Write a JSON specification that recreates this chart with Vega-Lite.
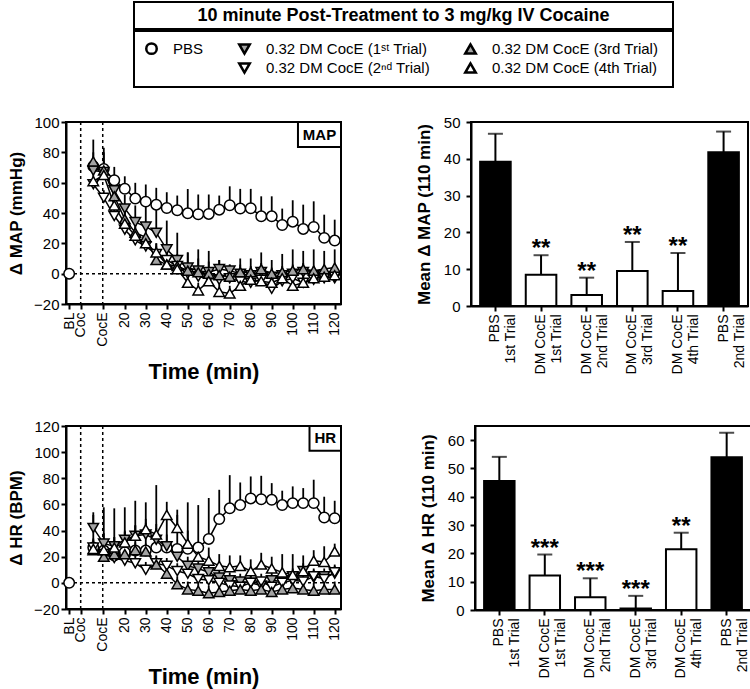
{
"$schema": "https://vega.github.io/schema/vega-lite/v6.json",
"padding": {"left": 6, "top": 1, "right": 0, "bottom": 0},
"autosize": {"type": "pad"},
"config": {
 "font": "Liberation Sans",
 "view": {"stroke": "black", "strokeWidth": 2},
 "axis": {"domainColor": "black", "domainWidth": 2, "tickColor": "black", "tickWidth": 2, "tickSize": 5, "labelColor": "black", "titleColor": "black", "labelFontSize": 15, "labelFont": "Liberation Sans", "titleFont": "Liberation Sans", "titleFontWeight": "bold", "titleFontSize": 17, "grid": false, "labelOverlap": false, "tickCount": 30}
},
"datasets": {
 "events": [{"event": "Coc", "t": -1}, {"event": "CocE", "t": 9.5}],
 "map": [
  {"t":-6.5,"s":"PBS","v":0,"hi":0},
  {"t":5,"s":"PBS","v":70.8,"hi":88.4},{"t":10,"s":"PBS","v":69,"hi":83},{"t":15,"s":"PBS","v":61.6,"hi":70.4},{"t":20,"s":"PBS","v":56,"hi":64.2},{"t":25,"s":"PBS","v":49.5,"hi":59.9},{"t":30,"s":"PBS","v":47.5,"hi":58.8},{"t":35,"s":"PBS","v":45.5,"hi":56.6},{"t":40,"s":"PBS","v":43.3,"hi":53.7},{"t":45,"s":"PBS","v":41.8,"hi":51.5},{"t":50,"s":"PBS","v":39.8,"hi":55.8},{"t":55,"s":"PBS","v":39.2,"hi":52.2},{"t":60,"s":"PBS","v":39.4,"hi":52.2},{"t":65,"s":"PBS","v":42.2,"hi":51.5},{"t":70,"s":"PBS","v":45.1,"hi":57.6},{"t":75,"s":"PBS","v":42.9,"hi":55.9},{"t":80,"s":"PBS","v":43.1,"hi":55.9},{"t":85,"s":"PBS","v":37.8,"hi":51},{"t":90,"s":"PBS","v":37.8,"hi":51},{"t":95,"s":"PBS","v":32.1,"hi":42.9},{"t":100,"s":"PBS","v":34.3,"hi":48.4},{"t":105,"s":"PBS","v":29.5,"hi":45.5},{"t":110,"s":"PBS","v":30.8,"hi":47.7},{"t":115,"s":"PBS","v":23.6,"hi":38.9},{"t":120,"s":"PBS","v":21.8,"hi":35.6},
  {"t":5,"s":"T1","v":68,"hi":76},{"t":10,"s":"T1","v":67,"hi":80},{"t":15,"s":"T1","v":55,"hi":62},{"t":20,"s":"T1","v":43,"hi":52},{"t":25,"s":"T1","v":34,"hi":45},{"t":30,"s":"T1","v":31,"hi":44},{"t":35,"s":"T1","v":27,"hi":42},{"t":40,"s":"T1","v":16,"hi":35},{"t":45,"s":"T1","v":9,"hi":27},{"t":50,"s":"T1","v":4,"hi":14},{"t":55,"s":"T1","v":2,"hi":10},{"t":60,"s":"T1","v":1,"hi":8},{"t":65,"s":"T1","v":3,"hi":9},{"t":70,"s":"T1","v":2,"hi":6},{"t":75,"s":"T1","v":0,"hi":6},{"t":80,"s":"T1","v":-1,"hi":5},{"t":85,"s":"T1","v":1,"hi":7},{"t":90,"s":"T1","v":-2,"hi":4},{"t":95,"s":"T1","v":-1,"hi":5},{"t":100,"s":"T1","v":0,"hi":6},{"t":105,"s":"T1","v":1,"hi":7},{"t":110,"s":"T1","v":-1,"hi":5},{"t":115,"s":"T1","v":-2,"hi":4},{"t":120,"s":"T1","v":-3,"hi":3},
  {"t":5,"s":"T2","v":59,"hi":63},{"t":10,"s":"T2","v":50,"hi":55},{"t":15,"s":"T2","v":38,"hi":43},{"t":20,"s":"T2","v":29,"hi":34},{"t":25,"s":"T2","v":22,"hi":27},{"t":30,"s":"T2","v":18,"hi":23},{"t":35,"s":"T2","v":13,"hi":18},{"t":40,"s":"T2","v":9,"hi":14},{"t":45,"s":"T2","v":5,"hi":10},{"t":50,"s":"T2","v":0,"hi":4},{"t":55,"s":"T2","v":-2,"hi":2},{"t":60,"s":"T2","v":-3,"hi":1},{"t":65,"s":"T2","v":-4,"hi":0},{"t":70,"s":"T2","v":-3,"hi":1},{"t":75,"s":"T2","v":-5,"hi":-1},{"t":80,"s":"T2","v":-6,"hi":-2},{"t":85,"s":"T2","v":-4,"hi":0},{"t":90,"s":"T2","v":-10,"hi":-5},{"t":95,"s":"T2","v":-5,"hi":-1},{"t":100,"s":"T2","v":-3,"hi":1},{"t":105,"s":"T2","v":-6,"hi":-2},{"t":110,"s":"T2","v":-4,"hi":0},{"t":115,"s":"T2","v":-3,"hi":1},{"t":120,"s":"T2","v":-2,"hi":2},
  {"t":5,"s":"T3","v":74,"hi":80},{"t":10,"s":"T3","v":68,"hi":74},{"t":15,"s":"T3","v":51,"hi":58},{"t":20,"s":"T3","v":36,"hi":44},{"t":25,"s":"T3","v":27,"hi":35},{"t":30,"s":"T3","v":24,"hi":33},{"t":35,"s":"T3","v":9,"hi":20},{"t":40,"s":"T3","v":6,"hi":16},{"t":45,"s":"T3","v":5,"hi":13},{"t":50,"s":"T3","v":2,"hi":14},{"t":55,"s":"T3","v":1,"hi":16},{"t":60,"s":"T3","v":0,"hi":15},{"t":65,"s":"T3","v":-1,"hi":9},{"t":70,"s":"T3","v":-2,"hi":6},{"t":75,"s":"T3","v":1,"hi":10},{"t":80,"s":"T3","v":1,"hi":10},{"t":85,"s":"T3","v":3,"hi":14},{"t":90,"s":"T3","v":0,"hi":9},{"t":95,"s":"T3","v":1,"hi":13},{"t":100,"s":"T3","v":2,"hi":16},{"t":105,"s":"T3","v":3,"hi":15},{"t":110,"s":"T3","v":2,"hi":16},{"t":115,"s":"T3","v":3,"hi":15},{"t":120,"s":"T3","v":4,"hi":16},
  {"t":5,"s":"T4","v":61,"hi":66},{"t":10,"s":"T4","v":65,"hi":72},{"t":15,"s":"T4","v":45,"hi":52},{"t":20,"s":"T4","v":33,"hi":40},{"t":25,"s":"T4","v":25,"hi":31},{"t":30,"s":"T4","v":20,"hi":26},{"t":35,"s":"T4","v":14,"hi":20},{"t":40,"s":"T4","v":6,"hi":12},{"t":45,"s":"T4","v":3,"hi":8},{"t":50,"s":"T4","v":-6,"hi":-1},{"t":55,"s":"T4","v":-11,"hi":-6},{"t":60,"s":"T4","v":-5,"hi":0},{"t":65,"s":"T4","v":-12,"hi":-7},{"t":70,"s":"T4","v":-13,"hi":-8},{"t":75,"s":"T4","v":-8,"hi":-3},{"t":80,"s":"T4","v":-4,"hi":1},{"t":85,"s":"T4","v":-5,"hi":0},{"t":90,"s":"T4","v":-6,"hi":-1},{"t":95,"s":"T4","v":-3,"hi":2},{"t":100,"s":"T4","v":-8,"hi":-3},{"t":105,"s":"T4","v":-6,"hi":-1},{"t":110,"s":"T4","v":-3,"hi":2},{"t":115,"s":"T4","v":-2,"hi":3},{"t":120,"s":"T4","v":-1,"hi":4}
 ],
 "hr": [
  {"t":-6.5,"s":"PBS","v":0,"hi":0},
  {"t":5,"s":"PBS","v":27,"hi":54},{"t":10,"s":"PBS","v":24.7,"hi":57.8},{"t":15,"s":"PBS","v":21,"hi":57},{"t":20,"s":"PBS","v":23.4,"hi":57.8},{"t":25,"s":"PBS","v":24.7,"hi":62.8},{"t":30,"s":"PBS","v":24.7,"hi":61.6},{"t":35,"s":"PBS","v":27,"hi":74.8},{"t":40,"s":"PBS","v":27,"hi":52},{"t":45,"s":"PBS","v":26,"hi":56},{"t":50,"s":"PBS","v":26,"hi":61.6},{"t":55,"s":"PBS","v":27,"hi":59.5},{"t":60,"s":"PBS","v":33.6,"hi":64.9},{"t":65,"s":"PBS","v":48.8,"hi":71.2},{"t":70,"s":"PBS","v":57,"hi":82.4},{"t":75,"s":"PBS","v":59.5,"hi":76.8},{"t":80,"s":"PBS","v":64.6,"hi":81.4},{"t":85,"s":"PBS","v":64,"hi":81.9},{"t":90,"s":"PBS","v":63.5,"hi":76.3},{"t":95,"s":"PBS","v":59.5,"hi":70.5},{"t":100,"s":"PBS","v":61,"hi":73.8},{"t":105,"s":"PBS","v":61,"hi":72.5},{"t":110,"s":"PBS","v":61,"hi":78.9},{"t":115,"s":"PBS","v":50,"hi":65.9},{"t":120,"s":"PBS","v":49.4,"hi":62.8},
  {"t":5,"s":"T1","v":42,"hi":52},{"t":10,"s":"T1","v":30,"hi":38},{"t":15,"s":"T1","v":28,"hi":35},{"t":20,"s":"T1","v":33,"hi":40},{"t":25,"s":"T1","v":36,"hi":44},{"t":30,"s":"T1","v":37,"hi":46},{"t":35,"s":"T1","v":33,"hi":42},{"t":40,"s":"T1","v":28,"hi":37},{"t":45,"s":"T1","v":20,"hi":28},{"t":50,"s":"T1","v":13,"hi":20},{"t":55,"s":"T1","v":11,"hi":18},{"t":60,"s":"T1","v":8,"hi":14},{"t":65,"s":"T1","v":4,"hi":10},{"t":70,"s":"T1","v":2,"hi":8},{"t":75,"s":"T1","v":1,"hi":7},{"t":80,"s":"T1","v":0,"hi":6},{"t":85,"s":"T1","v":-2,"hi":4},{"t":90,"s":"T1","v":2,"hi":8},{"t":95,"s":"T1","v":1,"hi":7},{"t":100,"s":"T1","v":5,"hi":11},{"t":105,"s":"T1","v":9,"hi":15},{"t":110,"s":"T1","v":4,"hi":10},{"t":115,"s":"T1","v":5,"hi":11},{"t":120,"s":"T1","v":7,"hi":13},
  {"t":5,"s":"T2","v":27,"hi":33},{"t":10,"s":"T2","v":22,"hi":28},{"t":15,"s":"T2","v":19,"hi":25},{"t":20,"s":"T2","v":17,"hi":23},{"t":25,"s":"T2","v":15,"hi":21},{"t":30,"s":"T2","v":10,"hi":16},{"t":35,"s":"T2","v":15,"hi":21},{"t":40,"s":"T2","v":13,"hi":19},{"t":45,"s":"T2","v":9,"hi":15},{"t":50,"s":"T2","v":7,"hi":13},{"t":55,"s":"T2","v":3,"hi":9},{"t":60,"s":"T2","v":2,"hi":8},{"t":65,"s":"T2","v":0,"hi":6},{"t":70,"s":"T2","v":-2,"hi":4},{"t":75,"s":"T2","v":-3,"hi":3},{"t":80,"s":"T2","v":0,"hi":6},{"t":85,"s":"T2","v":1,"hi":7},{"t":90,"s":"T2","v":-3,"hi":3},{"t":95,"s":"T2","v":0,"hi":6},{"t":100,"s":"T2","v":2,"hi":8},{"t":105,"s":"T2","v":1,"hi":7},{"t":110,"s":"T2","v":5,"hi":11},{"t":115,"s":"T2","v":3,"hi":9},{"t":120,"s":"T2","v":8,"hi":14},
  {"t":5,"s":"T3","v":25,"hi":31},{"t":10,"s":"T3","v":20,"hi":26},{"t":15,"s":"T3","v":22,"hi":28},{"t":20,"s":"T3","v":22,"hi":28},{"t":25,"s":"T3","v":25,"hi":31},{"t":30,"s":"T3","v":24,"hi":30},{"t":35,"s":"T3","v":14,"hi":20},{"t":40,"s":"T3","v":7,"hi":13},{"t":45,"s":"T3","v":-1,"hi":5},{"t":50,"s":"T3","v":-5,"hi":1},{"t":55,"s":"T3","v":-6,"hi":0},{"t":60,"s":"T3","v":-8,"hi":-2},{"t":65,"s":"T3","v":-7,"hi":-1},{"t":70,"s":"T3","v":-6,"hi":0},{"t":75,"s":"T3","v":-5,"hi":1},{"t":80,"s":"T3","v":-6,"hi":0},{"t":85,"s":"T3","v":-5,"hi":1},{"t":90,"s":"T3","v":-7,"hi":-1},{"t":95,"s":"T3","v":-5,"hi":1},{"t":100,"s":"T3","v":-4,"hi":2},{"t":105,"s":"T3","v":-5,"hi":1},{"t":110,"s":"T3","v":-6,"hi":0},{"t":115,"s":"T3","v":-5,"hi":1},{"t":120,"s":"T3","v":-5,"hi":1},
  {"t":5,"s":"T4","v":26,"hi":34},{"t":10,"s":"T4","v":25,"hi":33},{"t":15,"s":"T4","v":27,"hi":35},{"t":20,"s":"T4","v":31,"hi":39},{"t":25,"s":"T4","v":36,"hi":44},{"t":30,"s":"T4","v":41,"hi":49},{"t":35,"s":"T4","v":37,"hi":45},{"t":40,"s":"T4","v":52,"hi":62},{"t":45,"s":"T4","v":42,"hi":52},{"t":50,"s":"T4","v":30,"hi":40},{"t":55,"s":"T4","v":20,"hi":30},{"t":60,"s":"T4","v":17,"hi":27},{"t":65,"s":"T4","v":13,"hi":22},{"t":70,"s":"T4","v":12,"hi":21},{"t":75,"s":"T4","v":13,"hi":21},{"t":80,"s":"T4","v":9,"hi":18},{"t":85,"s":"T4","v":14,"hi":23},{"t":90,"s":"T4","v":11,"hi":20},{"t":95,"s":"T4","v":8,"hi":22},{"t":100,"s":"T4","v":6,"hi":22},{"t":105,"s":"T4","v":9,"hi":21},{"t":110,"s":"T4","v":17,"hi":25},{"t":115,"s":"T4","v":16,"hi":28},{"t":120,"s":"T4","v":24,"hi":30}
 ],
 "mapbar": [
  {"cond":"PBS|1st Trial","grp":"PBS","v":39.2,"hi":46.8,"sig":""},
  {"cond":"DM CocE|1st Trial","grp":"DM CocE","v":8.5,"hi":13.8,"sig":"**"},
  {"cond":"DM CocE|2nd Trial","grp":"DM CocE","v":3.0,"hi":7.7,"sig":"**"},
  {"cond":"DM CocE|3rd Trial","grp":"DM CocE","v":9.5,"hi":17.4,"sig":"**"},
  {"cond":"DM CocE|4th Trial","grp":"DM CocE","v":4.1,"hi":14.4,"sig":"**"},
  {"cond":"PBS|2nd Trial","grp":"PBS","v":41.8,"hi":47.4,"sig":""}
 ],
 "hrbar": [
  {"cond":"PBS|1st Trial","grp":"PBS","v":45.6,"hi":54.1,"sig":""},
  {"cond":"DM CocE|1st Trial","grp":"DM CocE","v":12.2,"hi":19.6,"sig":"***"},
  {"cond":"DM CocE|2nd Trial","grp":"DM CocE","v":4.5,"hi":11.2,"sig":"***"},
  {"cond":"DM CocE|3rd Trial","grp":"DM CocE","v":0.5,"hi":5.0,"sig":"***"},
  {"cond":"DM CocE|4th Trial","grp":"DM CocE","v":21.5,"hi":27.3,"sig":"**"},
  {"cond":"PBS|2nd Trial","grp":"PBS","v":54.0,"hi":62.6,"sig":""}
 ]
},
"spacing": 24,
"resolve": {"scale": {"shape": "independent", "fill": "independent", "stroke": "independent"}, "legend": {"shape": "independent", "fill": "independent", "stroke": "independent"}},
"vconcat": [
 {
  "spacing": 0,
  "resolve": {"scale": {"shape": "independent", "fill": "independent", "stroke": "independent"}, "legend": {"shape": "independent", "fill": "independent", "stroke": "independent"}},
  "hconcat": [
   {"width": 67, "height": 10, "view": {"stroke": null}, "data": {"values": []}, "mark": "point"},
   {
    "spacing": 0,
    "resolve": {"scale": {"shape": "independent", "fill": "independent", "stroke": "independent"}, "legend": {"shape": "independent", "fill": "independent", "stroke": "independent"}},
    "vconcat": [
     {"width": 539, "height": 27, "view": {"stroke": null},
      "layer": [
       {"data": {"values": [{}]}, "mark": {"type": "rect", "fill": "white", "stroke": "black", "strokeWidth": 2}, "encoding": {}},
       {"data": {"values": [{"title": "10 minute Post-Treatment to 3 mg/kg IV Cocaine"}]}, "mark": {"type": "text", "fontSize": 18, "fontWeight": "bold", "color": "black"}, "encoding": {"text": {"field": "title", "type": "nominal"}}}
      ]
     },
     {"width": 539, "height": 56, "view": {"stroke": null},
      "layer": [
       {"data": {"values": [{}]}, "mark": {"type": "rect", "fill": "white", "stroke": "black", "strokeWidth": 2}, "encoding": {}},
       {"data": {"values": []}, "mark": {"type": "point", "opacity": 0},
        "encoding": {
         "shape": {"field": "s", "type": "nominal", "scale": {"domain": ["PBS","blank","T1","T2","T3","T4"], "range": ["circle","circle","triangle-down","triangle-down","triangle-up","triangle-up"]},
          "legend": {"title": null, "orient": "top-left", "offset": 10, "padding": 0, "columns": 3, "columnPadding": 30, "rowPadding": -1.5, "symbolSize": 110, "symbolStrokeWidth": 2.5, "symbolOpacity": 1, "labelFontSize": 15, "labelColor": "black", "labelOffset": 14, "labelLimit": 300, "labelExpr": "datum.value == 'T1' ? '0.32 DM CocE (1ˢᵗ Trial)' : datum.value == 'T2' ? '0.32 DM CocE (2ⁿᵈ Trial)' : datum.value == 'T3' ? '0.32 DM CocE (3rd Trial)' : datum.value == 'T4' ? '0.32 DM CocE (4th Trial)' : datum.value == 'blank' ? '' : datum.label"}},
         "fill": {"field": "s", "type": "nominal", "scale": {"domain": ["PBS","blank","T1","T2","T3","T4"], "range": ["white","transparent","#a3a3a3","white","#a3a3a3","white"]},
          "legend": {"title": null, "orient": "top-left", "offset": 10, "padding": 0, "columns": 3, "columnPadding": 30, "rowPadding": -1.5, "symbolSize": 110, "symbolStrokeWidth": 2.5, "symbolOpacity": 1, "labelFontSize": 15, "labelColor": "black", "labelOffset": 14, "labelLimit": 300, "labelExpr": "datum.value == 'T1' ? '0.32 DM CocE (1ˢᵗ Trial)' : datum.value == 'T2' ? '0.32 DM CocE (2ⁿᵈ Trial)' : datum.value == 'T3' ? '0.32 DM CocE (3rd Trial)' : datum.value == 'T4' ? '0.32 DM CocE (4th Trial)' : datum.value == 'blank' ? '' : datum.label"}},
         "stroke": {"field": "s", "type": "nominal", "scale": {"domain": ["PBS","blank","T1","T2","T3","T4"], "range": ["black","transparent","black","black","black","black"]},
          "legend": {"title": null, "orient": "top-left", "offset": 10, "padding": 0, "columns": 3, "columnPadding": 30, "rowPadding": -1.5, "symbolSize": 110, "symbolStrokeWidth": 2.5, "symbolOpacity": 1, "labelFontSize": 15, "labelColor": "black", "labelOffset": 14, "labelLimit": 300, "labelExpr": "datum.value == 'T1' ? '0.32 DM CocE (1ˢᵗ Trial)' : datum.value == 'T2' ? '0.32 DM CocE (2ⁿᵈ Trial)' : datum.value == 'T3' ? '0.32 DM CocE (3rd Trial)' : datum.value == 'T4' ? '0.32 DM CocE (4th Trial)' : datum.value == 'blank' ? '' : datum.label"}}
        }
       }
      ]
     }
    ]
   }
  ]
 },
 {
  "spacing": 29,
  "resolve": {"scale": {"shape": "independent", "fill": "independent", "stroke": "independent"}, "legend": {"shape": "independent", "fill": "independent", "stroke": "independent"}},
  "vconcat": [
   {
    "spacing": 70,
    "resolve": {"scale": {"shape": "independent", "fill": "independent", "stroke": "independent"}, "legend": {"shape": "independent", "fill": "independent", "stroke": "independent"}},
    "hconcat": [
     {
      "width": 275, "height": 182,
      "layer": [
       {"data": {"name": "events"}, "mark": {"type": "rule", "strokeDash": [3, 3], "strokeWidth": 1.5, "color": "black"}, "encoding": {"x": {"field": "t", "type": "quantitative", "scale": {"domain": [-8, 123], "nice": false, "zero": false}}}},
       {"data": {"values": [{"v": 0}]}, "mark": {"type": "rule", "strokeDash": [3, 3], "strokeWidth": 1.5, "color": "black"}, "encoding": {"y": {"field": "v", "type": "quantitative", "scale": {"domain": [-20, 100], "nice": false, "zero": false}}}},
       {"data": {"name": "map"}, "mark": {"type": "rule", "color": "black", "strokeWidth": 1.8}, "encoding": {"x": {"field": "t", "type": "quantitative", "scale": {"domain": [-8, 123], "nice": false, "zero": false}}, "y": {"field": "v", "type": "quantitative", "scale": {"domain": [-20, 100], "nice": false, "zero": false}}, "y2": {"field": "hi"}}},
       {"data": {"name": "map"}, "transform": [{"filter": "datum.t > 0"}], "mark": {"type": "line", "color": "black", "strokeWidth": 1.5}, "encoding": {"x": {"field": "t", "type": "quantitative", "scale": {"domain": [-8, 123], "nice": false, "zero": false}}, "y": {"field": "v", "type": "quantitative", "scale": {"domain": [-20, 100], "nice": false, "zero": false}}, "detail": {"field": "s", "type": "nominal"}}},
       {"data": {"name": "map"}, "mark": {"type": "point", "filled": true, "size": 110, "stroke": "black", "strokeWidth": 1.5, "opacity": 1},
        "encoding": {
         "x": {"field": "t", "type": "quantitative", "scale": {"domain": [-8, 123], "nice": false, "zero": false}, "axis": {"title": "Time (min)", "titleFontSize": 22, "titlePadding": 15, "values": [-6.5, -1, 9.5, 20, 30, 40, 50, 60, 70, 80, 90, 100, 110, 120], "tickCount": 30, "labelExpr": "datum.value == -6.5 ? 'BL' : datum.value == -1 ? 'Coc' : datum.value == 9.5 ? 'CocE' : datum.label", "labelAngle": 270, "labelAlign": "right", "labelBaseline": "middle", "labelFontSize": 14, "labelPadding": 3, "labelOverlap": false, "labelFlush": false, "labelBound": false}},
         "y": {"field": "v", "type": "quantitative", "scale": {"domain": [-20, 100], "nice": false, "zero": false}, "axis": {"title": "Δ MAP (mmHg)", "values": [-20, 0, 20, 40, 60, 80, 100], "tickCount": 30, "labelPadding": 2, "titlePadding": 8, "labelFlush": false, "labelOverlap": false}},
         "shape": {"field": "s", "type": "nominal", "scale": {"domain": ["PBS","T1","T2","T3","T4"], "range": ["circle","triangle-down","triangle-down","triangle-up","triangle-up"]}, "legend": null},
         "fill": {"field": "s", "type": "nominal", "scale": {"domain": ["PBS","T1","T2","T3","T4"], "range": ["white","#a3a3a3","white","#a3a3a3","white"]}, "legend": null}
        }
       },
       {"data": {"values": [{}]}, "mark": {"type": "rect", "fill": "white", "stroke": "black", "strokeWidth": 2}, "encoding": {"x": {"datum": 102.5, "type": "quantitative", "scale": {"domain": [-8, 123], "nice": false, "zero": false}}, "x2": {"datum": 123}, "y": {"datum": 83.5, "type": "quantitative", "scale": {"domain": [-20, 100], "nice": false, "zero": false}}, "y2": {"datum": 100}}},
       {"data": {"values": [{}]}, "mark": {"type": "text", "fontSize": 15, "fontWeight": "bold", "color": "black"}, "encoding": {"x": {"datum": 112.75, "type": "quantitative", "scale": {"domain": [-8, 123], "nice": false, "zero": false}}, "y": {"datum": 91.7, "type": "quantitative", "scale": {"domain": [-20, 100], "nice": false, "zero": false}}, "text": {"value": "MAP"}}}
      ]
     },
     {
      "width": 277, "height": 184,
      "data": {"name": "mapbar"},
      "encoding": {"x": {"field": "cond", "type": "nominal", "sort": null, "scale": {"paddingInner": 0.33, "paddingOuter": 0.2}, "axis": {"title": null, "labelAngle": 270, "labelAlign": "right", "labelBaseline": "middle", "labelExpr": "split(datum.label, '|')", "labelFontSize": 14, "labelLineHeight": 16, "labelPadding": 3}}},
      "layer": [
       {"mark": {"type": "bar", "stroke": "black", "strokeWidth": 2}, "encoding": {"y": {"field": "v", "type": "quantitative", "scale": {"domain": [0, 50], "nice": false}, "axis": {"title": "Mean Δ MAP (110 min)", "values": [0, 10, 20, 30, 40, 50], "tickCount": 30, "labelPadding": 6, "titlePadding": 10, "labelFlush": false, "labelOverlap": false}}, "fill": {"field": "grp", "type": "nominal", "scale": {"domain": ["PBS", "DM CocE"], "range": ["black", "white"]}, "legend": null}}},
       {"mark": {"type": "rule", "strokeWidth": 2, "color": "black"}, "encoding": {"y": {"field": "v", "type": "quantitative", "scale": {"domain": [0, 50], "nice": false}}, "y2": {"field": "hi"}}},
       {"mark": {"type": "tick", "thickness": 2, "size": 15, "color": "black"}, "encoding": {"y": {"field": "hi", "type": "quantitative", "scale": {"domain": [0, 50], "nice": false}}}},
       {"mark": {"type": "text", "fontSize": 24, "fontWeight": "bold", "baseline": "alphabetic", "dy": 1, "color": "black"}, "encoding": {"y": {"field": "hi", "type": "quantitative", "scale": {"domain": [0, 50], "nice": false}}, "text": {"field": "sig"}}}
      ]
     }
    ]
   },
   {
    "spacing": 74,
    "resolve": {"scale": {"shape": "independent", "fill": "independent", "stroke": "independent"}, "legend": {"shape": "independent", "fill": "independent", "stroke": "independent"}},
    "hconcat": [
     {
      "width": 275, "height": 183,
      "layer": [
       {"data": {"name": "events"}, "mark": {"type": "rule", "strokeDash": [3, 3], "strokeWidth": 1.5, "color": "black"}, "encoding": {"x": {"field": "t", "type": "quantitative", "scale": {"domain": [-8, 123], "nice": false, "zero": false}}}},
       {"data": {"values": [{"v": 0}]}, "mark": {"type": "rule", "strokeDash": [3, 3], "strokeWidth": 1.5, "color": "black"}, "encoding": {"y": {"field": "v", "type": "quantitative", "scale": {"domain": [-20, 120], "nice": false, "zero": false}}}},
       {"data": {"name": "hr"}, "mark": {"type": "rule", "color": "black", "strokeWidth": 1.8}, "encoding": {"x": {"field": "t", "type": "quantitative", "scale": {"domain": [-8, 123], "nice": false, "zero": false}}, "y": {"field": "v", "type": "quantitative", "scale": {"domain": [-20, 120], "nice": false, "zero": false}}, "y2": {"field": "hi"}}},
       {"data": {"name": "hr"}, "transform": [{"filter": "datum.t > 0"}], "mark": {"type": "line", "color": "black", "strokeWidth": 1.5}, "encoding": {"x": {"field": "t", "type": "quantitative", "scale": {"domain": [-8, 123], "nice": false, "zero": false}}, "y": {"field": "v", "type": "quantitative", "scale": {"domain": [-20, 120], "nice": false, "zero": false}}, "detail": {"field": "s", "type": "nominal"}}},
       {"data": {"name": "hr"}, "mark": {"type": "point", "filled": true, "size": 110, "stroke": "black", "strokeWidth": 1.5, "opacity": 1},
        "encoding": {
         "x": {"field": "t", "type": "quantitative", "scale": {"domain": [-8, 123], "nice": false, "zero": false}, "axis": {"title": "Time (min)", "titleFontSize": 22, "titlePadding": 15, "values": [-6.5, -1, 9.5, 20, 30, 40, 50, 60, 70, 80, 90, 100, 110, 120], "tickCount": 30, "labelExpr": "datum.value == -6.5 ? 'BL' : datum.value == -1 ? 'Coc' : datum.value == 9.5 ? 'CocE' : datum.label", "labelAngle": 270, "labelAlign": "right", "labelBaseline": "middle", "labelFontSize": 14, "labelPadding": 3, "labelOverlap": false, "labelFlush": false, "labelBound": false}},
         "y": {"field": "v", "type": "quantitative", "scale": {"domain": [-20, 120], "nice": false, "zero": false}, "axis": {"title": "Δ HR (BPM)", "values": [-20, 0, 20, 40, 60, 80, 100, 120], "tickCount": 30, "labelPadding": 2, "titlePadding": 8, "labelFlush": false, "labelOverlap": false}},
         "shape": {"field": "s", "type": "nominal", "scale": {"domain": ["PBS","T1","T2","T3","T4"], "range": ["circle","triangle-down","triangle-down","triangle-up","triangle-up"]}, "legend": null},
         "fill": {"field": "s", "type": "nominal", "scale": {"domain": ["PBS","T1","T2","T3","T4"], "range": ["white","#a3a3a3","white","#a3a3a3","white"]}, "legend": null}
        }
       },
       {"data": {"values": [{}]}, "mark": {"type": "rect", "fill": "white", "stroke": "black", "strokeWidth": 2}, "encoding": {"x": {"datum": 108, "type": "quantitative", "scale": {"domain": [-8, 123], "nice": false, "zero": false}}, "x2": {"datum": 123}, "y": {"datum": 101, "type": "quantitative", "scale": {"domain": [-20, 120], "nice": false, "zero": false}}, "y2": {"datum": 120}}},
       {"data": {"values": [{}]}, "mark": {"type": "text", "fontSize": 15, "fontWeight": "bold", "color": "black"}, "encoding": {"x": {"datum": 115.5, "type": "quantitative", "scale": {"domain": [-8, 123], "nice": false, "zero": false}}, "y": {"datum": 110.5, "type": "quantitative", "scale": {"domain": [-20, 120], "nice": false, "zero": false}}, "text": {"value": "HR"}}}
      ]
     },
     {
      "width": 276, "height": 184,
      "data": {"name": "hrbar"},
      "encoding": {"x": {"field": "cond", "type": "nominal", "sort": null, "scale": {"paddingInner": 0.33, "paddingOuter": 0.2}, "axis": {"title": null, "labelAngle": 270, "labelAlign": "right", "labelBaseline": "middle", "labelExpr": "split(datum.label, '|')", "labelFontSize": 14, "labelLineHeight": 16, "labelPadding": 3}}},
      "layer": [
       {"mark": {"type": "bar", "stroke": "black", "strokeWidth": 2}, "encoding": {"y": {"field": "v", "type": "quantitative", "scale": {"domain": [0, 65], "nice": false}, "axis": {"title": "Mean Δ HR (110 min)", "values": [0, 10, 20, 30, 40, 50, 60], "tickCount": 30, "labelPadding": 6, "titlePadding": 10, "labelFlush": false, "labelOverlap": false}}, "fill": {"field": "grp", "type": "nominal", "scale": {"domain": ["PBS", "DM CocE"], "range": ["black", "white"]}, "legend": null}}},
       {"mark": {"type": "rule", "strokeWidth": 2, "color": "black"}, "encoding": {"y": {"field": "v", "type": "quantitative", "scale": {"domain": [0, 65], "nice": false}}, "y2": {"field": "hi"}}},
       {"mark": {"type": "tick", "thickness": 2, "size": 15, "color": "black"}, "encoding": {"y": {"field": "hi", "type": "quantitative", "scale": {"domain": [0, 65], "nice": false}}}},
       {"mark": {"type": "text", "fontSize": 24, "fontWeight": "bold", "baseline": "alphabetic", "dy": 1, "color": "black"}, "encoding": {"y": {"field": "hi", "type": "quantitative", "scale": {"domain": [0, 65], "nice": false}}, "text": {"field": "sig"}}}
      ]
     }
    ]
   }
  ]
 }
]
}
